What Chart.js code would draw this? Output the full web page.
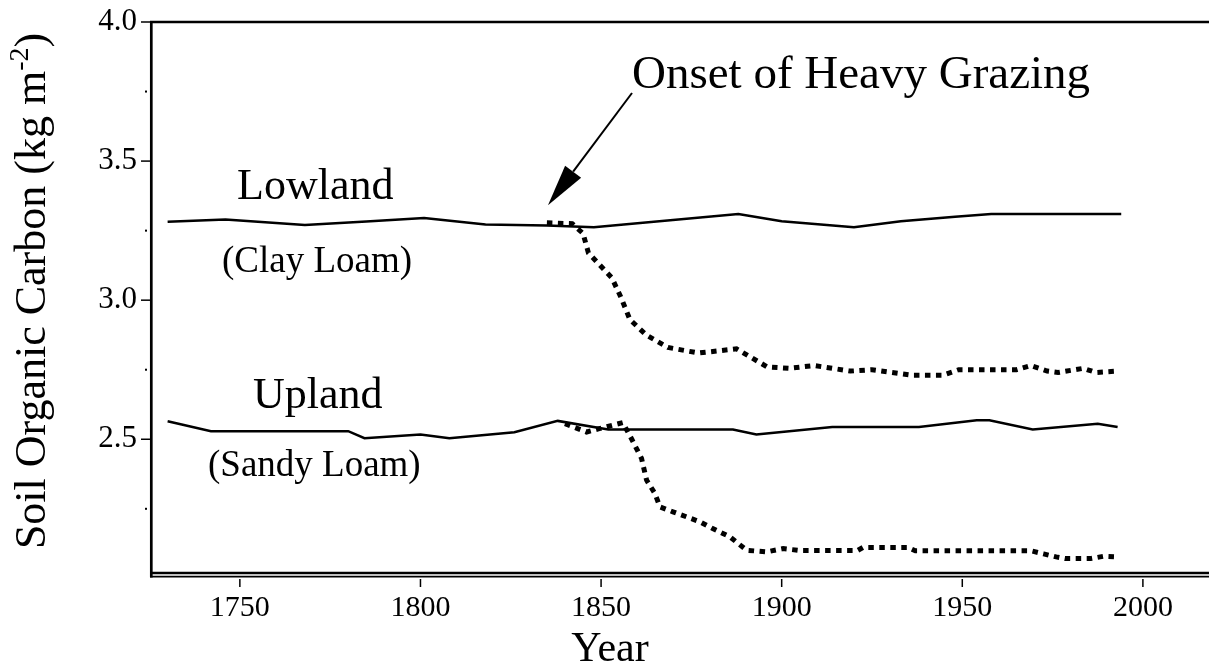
<!DOCTYPE html>
<html>
<head>
<meta charset="utf-8">
<script src="https://cdn.jsdelivr.net/npm/chart.js@4.4.0/dist/chart.umd.min.js"></script>
<style>
  html, body { margin: 0; padding: 0; background: #fff; }
</style>
</head>
<body>
<canvas id="soilChart" width="1209" height="670"></canvas>
<script>
// values
const lowlandYears = [1730, 1746, 1768, 1785, 1801, 1818, 1835, 1848, 1888, 1900, 1920, 1933, 1948, 1958, 1994];
const lowlandCarbon = [3.282, 3.29, 3.27, 3.283, 3.295, 3.272, 3.268, 3.262, 3.31, 3.284, 3.262, 3.284, 3.30, 3.31, 3.31];

const uplandYears = [1730, 1742, 1780, 1784.5, 1800, 1808, 1826, 1838, 1852, 1886.5, 1893, 1914, 1938, 1954, 1957.5, 1969.5, 1987.5, 1993];
const uplandCarbon = [2.565, 2.529, 2.529, 2.504, 2.517, 2.504, 2.525, 2.566, 2.535, 2.535, 2.517, 2.544, 2.544, 2.568, 2.568, 2.535, 2.556, 2.544];

const lowlandGrazedYears = [1835, 1842, 1845, 1846.5, 1853, 1855.5, 1858, 1862.5, 1868.5, 1877, 1887.5, 1896, 1902, 1909, 1919, 1925, 1936, 1944.5, 1949, 1965, 1969, 1973.5, 1976.5, 1983.5, 1987, 1993];
const lowlandGrazedCarbon = [3.278, 3.275, 3.24, 3.17, 3.08, 3.01, 2.93, 2.875, 2.83, 2.81, 2.825, 2.76, 2.755, 2.765, 2.745, 2.75, 2.73, 2.73, 2.75, 2.75, 2.765, 2.745, 2.74, 2.755, 2.74, 2.745];

const uplandGrazedYears = [1840, 1846, 1849.5, 1856, 1858.5, 1861.2, 1862.6, 1864.9, 1866.3, 1869.9, 1873.7, 1877.4, 1880.9, 1885.7, 1890.3, 1895.8, 1900.4, 1905, 1921, 1922.5, 1935, 1937, 1969, 1972.5, 1976, 1978.5, 1985.5, 1989, 1992.5];
const uplandGrazedCarbon = [2.556, 2.526, 2.538, 2.56, 2.50, 2.431, 2.353, 2.305, 2.257, 2.239, 2.221, 2.203, 2.179, 2.149, 2.101, 2.095, 2.107, 2.100, 2.100, 2.111, 2.111, 2.099, 2.099, 2.088, 2.077, 2.071, 2.071, 2.079, 2.077];

const xTickValues = [1750, 1800, 1850, 1900, 1950, 2000];
const yTickValues = [2.25, 2.5, 2.75, 3.0, 3.25, 3.5, 3.75, 4.0];

const serif = "'Liberation Serif', 'Times New Roman', serif";

const toPoints = (xs, ys) => xs.map((x, i) => ({x: x, y: ys[i]}));
const isMajor = (v) => Math.abs(v * 2 - Math.round(v * 2)) < 1e-9;

const solidLine = {borderColor: '#000', borderWidth: 2.5, pointRadius: 0, tension: 0, fill: false};
const grazedLine = {borderColor: '#000', borderWidth: 5, borderDash: [5.5, 5.5], borderCapStyle: 'butt', pointRadius: 0, tension: 0, fill: false};

// axes, ticks, labels and the arrow
const chartDecor = {
    id: 'chartDecor',
    afterDraw(chart) {
        const {ctx, chartArea: area, scales: {x, y}} = chart;
        ctx.save();
        ctx.strokeStyle = '#000';
        ctx.fillStyle = '#000';

        // frame
        ctx.lineWidth = 2.7;
        ctx.beginPath();
        ctx.moveTo(area.left + 0.3, area.top - 1);
        ctx.lineTo(area.left + 0.3, area.bottom + 2.5);
        ctx.stroke();
        ctx.beginPath();
        ctx.moveTo(area.left - 1, area.top);
        ctx.lineTo(area.right, area.top);
        ctx.stroke();

        ctx.lineWidth = 2.5;
        ctx.beginPath();
        ctx.moveTo(area.left - 1, area.bottom - 2);
        ctx.lineTo(area.right, area.bottom - 2);
        ctx.stroke();
        ctx.lineWidth = 1.7;
        ctx.beginPath();
        ctx.moveTo(area.left - 1, area.bottom + 1.6);
        ctx.lineTo(area.right, area.bottom + 1.6);
        ctx.stroke();

        // y ticks
        yTickValues.forEach(v => {
            const py = y.getPixelForValue(v);
            if (isMajor(v)) {
                ctx.lineWidth = 1.5;
                ctx.beginPath();
                ctx.moveTo(area.left - 10, py);
                ctx.lineTo(area.left, py);
                ctx.stroke();
            } else {
                ctx.fillRect(area.left - 6, py - 1, 2, 2);
            }
        });

        // x ticks
        ctx.lineWidth = 1.5;
        xTickValues.forEach(v => {
            const px = x.getPixelForValue(v);
            ctx.beginPath();
            ctx.moveTo(px, area.bottom + 4);
            ctx.lineTo(px, area.bottom + 12);
            ctx.stroke();
        });

        // labels on the plot
        ctx.textAlign = 'left';
        ctx.textBaseline = 'alphabetic';
        ctx.font = '44px ' + serif;
        ctx.fillText('Lowland', 237, 199);
        ctx.fillText('Upland', 253, 408);
        ctx.font = '37px ' + serif;
        ctx.fillText('(Clay Loam)', 222, 272);
        ctx.fillText('(Sandy Loam)', 208, 476);
        ctx.font = '47px ' + serif;
        ctx.fillText('Onset of Heavy Grazing', 632, 88);

        // arrow
        const tx = x.getPixelForValue(1835.3), ty = y.getPixelForValue(3.341);
        const sx = 632, sy = 93;
        const ang = Math.atan2(ty - sy, tx - sx);
        const headLen = 42, headHalf = 10;
        const bx = tx - headLen * Math.cos(ang), by = ty - headLen * Math.sin(ang);
        ctx.lineWidth = 2;
        ctx.beginPath();
        ctx.moveTo(sx, sy);
        ctx.lineTo(bx, by);
        ctx.stroke();
        ctx.beginPath();
        ctx.moveTo(tx, ty);
        ctx.lineTo(bx + headHalf * Math.sin(ang), by - headHalf * Math.cos(ang));
        ctx.lineTo(bx - headHalf * Math.sin(ang), by + headHalf * Math.cos(ang));
        ctx.closePath();
        ctx.fill();

        // axis titles
        ctx.textAlign = 'center';
        ctx.font = '42px ' + serif;
        ctx.fillText('Year', 610, 661);

        ctx.save();
        ctx.translate(45, 291);
        ctx.rotate(-Math.PI / 2);
        ctx.textAlign = 'left';
        const main = 'Soil Organic Carbon (kg m', sup = '-2', close = ')';
        ctx.font = '44px ' + serif;
        const wMain = ctx.measureText(main).width;
        const wClose = ctx.measureText(close).width;
        ctx.font = '28px ' + serif;
        const wSup = ctx.measureText(sup).width;
        let cx = -(wMain + wSup + wClose) / 2;
        ctx.font = '44px ' + serif;
        ctx.fillText(main, cx, 0);
        ctx.font = '28px ' + serif;
        ctx.fillText(sup, cx + wMain, -17);
        ctx.font = '44px ' + serif;
        ctx.fillText(close, cx + wMain + wSup, 0);
        ctx.restore();

        ctx.restore();
    }
};

new Chart(document.getElementById('soilChart'), {
    type: 'line',
    data: {
        datasets: [
            Object.assign({label: 'Lowland', data: toPoints(lowlandYears, lowlandCarbon)}, solidLine),
            Object.assign({label: 'Upland', data: toPoints(uplandYears, uplandCarbon)}, solidLine),
            Object.assign({label: 'Lowland grazed', data: toPoints(lowlandGrazedYears, lowlandGrazedCarbon)}, grazedLine),
            Object.assign({label: 'Upland grazed', data: toPoints(uplandGrazedYears, uplandGrazedCarbon)}, grazedLine),
        ]
    },
    options: {
        responsive: false,
        animation: false,
        devicePixelRatio: 1,
        layout: {padding: {top: 22, right: 0, bottom: 0, left: 0}},
        plugins: {legend: {display: false}, tooltip: {enabled: false}},
        scales: {
            x: {
                type: 'linear',
                min: 1725.4,
                max: 2018.3,
                grid: {display: false, drawTicks: false},
                border: {display: false},
                ticks: {color: '#000', font: {family: serif, size: 30}, padding: 15, callback: (v) => String(v)},
                afterBuildTicks: (scale) => { scale.ticks = xTickValues.map(v => ({value: v})); },
                afterFit: (scale) => { scale.height = 95; scale.paddingLeft = 0; scale.paddingRight = 0; }
            },
            y: {
                type: 'linear',
                min: 2.012,
                max: 4.0,
                grid: {display: false, drawTicks: false},
                border: {display: false},
                ticks: {color: '#000', font: {family: serif, size: 31}, padding: 14,
                    callback: (v) => isMajor(v) ? v.toFixed(1) : ''},
                afterBuildTicks: (scale) => { scale.ticks = yTickValues.map(v => ({value: v})); },
                afterFit: (scale) => { scale.width = 151; scale.paddingTop = 0; scale.paddingBottom = 0; }
            }
        }
    },
    plugins: [chartDecor]
});
</script>
</body>
</html>
